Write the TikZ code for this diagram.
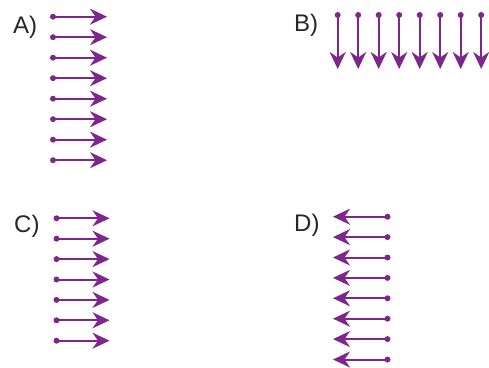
\documentclass[tikz,border=0pt]{standalone}
\usepackage{fontspec}
\setmainfont{Liberation Sans}
\usetikzlibrary{arrows.meta}
\definecolor{vecpurple}{RGB}{125,38,140}
\begin{document}
\begin{tikzpicture}[x=1pt, y=-1pt,
  tail/.style={circle, fill=vecpurple, inner sep=0pt, minimum size=6pt},
  vec/.style={draw=vecpurple, line width=2pt,
    -{Stealth[length=17pt, width=16pt, inset=5.5pt]}},
  letter/.style={anchor=base west, inner sep=0pt, text=black!85,
    font=\fontsize{24}{25}\selectfont}]
\useasboundingbox (0,0) rectangle (489,367);
% labels
\node [letter] (la) at (13,33) {A)};
\node [letter] (lb) at (294,31) {B)};
\node [letter] (lc) at (14,232) {C)};
\node [letter] (ld) at (294,231) {D)};
% A: to the right
\foreach \i in {0,...,7} {
  \node [tail] (a\i s) at (53,16.7+20.5*\i) {};
  \coordinate (a\i e) at (107,16.7+20.5*\i);
  \draw [vec] (a\i s.center) -- (a\i e);
}
% B: downwards
\foreach \i in {0,...,7} {
  \node [tail] (b\i s) at (337.7+20.5*\i,15) {};
  \coordinate (b\i e) at (337.7+20.5*\i,69);
  \draw [vec] (b\i s.center) -- (b\i e);
}
% C: to the right
\foreach \i in {0,...,6} {
  \node [tail] (c\i s) at (56.5,218.3+20.4*\i) {};
  \coordinate (c\i e) at (109.5,218.3+20.4*\i);
  \draw [vec] (c\i s.center) -- (c\i e);
}
% D: to the left
\foreach \i in {0,...,7} {
  \node [tail] (d\i s) at (387.5,216.7+20.4*\i) {};
  \coordinate (d\i e) at (333,216.7+20.4*\i);
  \draw [vec] (d\i s.center) -- (d\i e);
}
\end{tikzpicture}
\end{document}
